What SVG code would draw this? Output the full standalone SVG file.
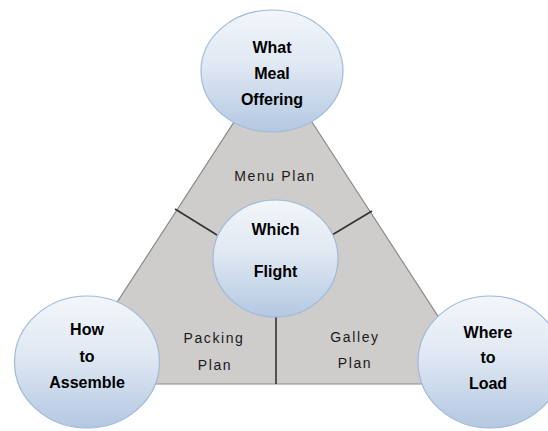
<svg xmlns="http://www.w3.org/2000/svg" width="548" height="431" viewBox="0 0 548 431">
<defs>
<linearGradient id="ball" x1="0" y1="0" x2="0" y2="1">
<stop offset="0" stop-color="#f3f6fa"/>
<stop offset="0.45" stop-color="#e0e8f3"/>
<stop offset="1" stop-color="#b3c8e2"/>
</linearGradient>
<style>
.ball{fill:url(#ball);stroke:#9fbad9;stroke-width:1.2}
.bt{font-family:"Liberation Sans",Arial,sans-serif;font-weight:bold;font-size:16px;fill:#000;text-anchor:middle}
.pt{font-family:"Liberation Sans",Arial,sans-serif;font-size:14px;letter-spacing:1.6px;fill:#1a1a1a;text-anchor:middle}
.div{stroke:#333;stroke-width:1.6;fill:none}
</style>
</defs>
<rect width="548" height="431" fill="#fff"/>
<g id="triangle">
<polygon points="273,62 64,384 482,384" fill="#cfcccc" stroke="#8c8a8a" stroke-width="1.2"/>
</g>
<g id="connectors">
<line class="div" x1="175" y1="209" x2="217" y2="235"/>
<line class="div" x1="372" y1="211" x2="332" y2="235"/>
<line class="div" x1="276" y1="313" x2="276" y2="384"/>
</g>
<g id="menu-plan"><text class="pt" x="275" y="181">Menu Plan</text></g>
<g id="packing-plan"><text class="pt" x="214" y="343">Packing</text><text class="pt" x="215" y="370">Plan</text></g>
<g id="galley-plan"><text class="pt" x="355" y="342">Galley</text><text class="pt" x="355" y="368">Plan</text></g>
<g id="what-meal-offering">
<ellipse class="ball" cx="272" cy="71" rx="71" ry="61"/>
<text class="bt" x="272" y="53">What</text>
<text class="bt" x="272" y="79">Meal</text>
<text class="bt" x="272" y="105">Offering</text>
</g>
<g id="which-flight">
<ellipse class="ball" cx="275.5" cy="258.5" rx="62.5" ry="58.5"/>
<text class="bt" x="275.5" y="235">Which</text>
<text class="bt" x="275.5" y="277">Flight</text>
</g>
<g id="how-to-assemble">
<ellipse class="ball" cx="87" cy="362" rx="72.5" ry="66"/>
<text class="bt" x="87" y="335">How</text>
<text class="bt" x="87" y="362">to</text>
<text class="bt" x="87" y="388">Assemble</text>
</g>
<g id="where-to-load">
<ellipse class="ball" cx="490" cy="362" rx="72" ry="66"/>
<text class="bt" x="488" y="338">Where</text>
<text class="bt" x="488" y="363">to</text>
<text class="bt" x="488" y="389">Load</text>
</g>
</svg>
